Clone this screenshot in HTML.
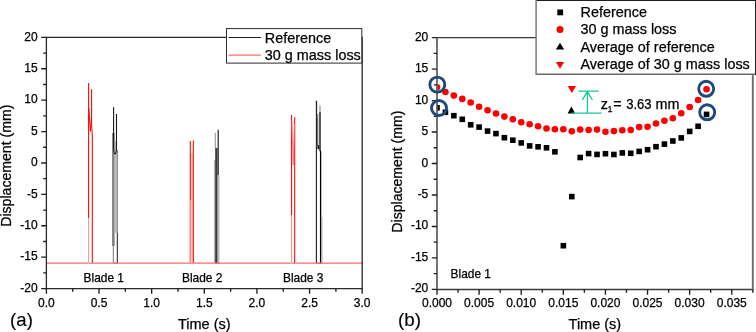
<!DOCTYPE html>
<html><head><meta charset="utf-8"><title>Blade tip displacement</title>
<style>html,body{margin:0;padding:0;background:#fff;}body{width:756px;height:332px;overflow:hidden;}svg{display:block;will-change:transform;font-family:"Liberation Sans",sans-serif;}text{fill:#000;stroke:#000;stroke-width:0.25px;}</style>
</head><body>
<svg width="756" height="332" viewBox="0 0 756 332">
<rect width="756" height="332" fill="#fff"/>
<g fill="none" stroke-linejoin="round">
<rect x="112.1" y="133" width="2.5" height="113" fill="#7e7e7e" stroke="none"/>
<rect x="114.6" y="141" width="2.0" height="92" fill="#b9b9b9" stroke="none"/>
<rect x="116.6" y="150" width="1.4" height="83" fill="#8c8c8c" stroke="none"/>
<path d="M113.3 246V263.2" stroke="#777" stroke-width="1"/>
<path d="M117.3 233V263.2" stroke="#1a1a1a" stroke-width="1"/>
<path d="M113.6 107.3V147Q113.8 153.5 115 154Q116.3 153.5 116.5 149V114" stroke="#1a1a1a" stroke-width="1.1"/>
<path d="M113.6 263.2H117.3" stroke="#777" stroke-width="1.1"/>
<rect x="214.2" y="160" width="1" height="103.2" fill="#a0a0a0" stroke="none"/>
<rect x="215.2" y="147.9" width="2.3" height="115.3" fill="#3c3c3c" stroke="none"/>
<rect x="217.5" y="175" width="1.1" height="88.2" fill="#8c8c8c" stroke="none"/>
<rect x="218.6" y="175" width="0.9" height="88.2" fill="#c0c0c0" stroke="none"/>
<path d="M215.3 132.8V147.9" stroke="#999" stroke-width="1.1"/>
<path d="M218.2 129.8V175" stroke="#111" stroke-width="1.1"/>
<path d="M215.3 263.2H219.4" stroke="#777" stroke-width="1.1"/>
<rect x="316.9" y="114" width="1.4" height="32" fill="#707070" stroke="none"/>
<path d="M317.1 101V118" stroke="#bbb" stroke-width="0.8"/>
<path d="M316.4 100.7V263.2" stroke="#1a1a1a" stroke-width="1.1"/>
<path d="M320.0 105.5V112" stroke="#888" stroke-width="1.1"/>
<path d="M320.0 112V150L320.6 152V263.2" stroke="#000" stroke-width="1.3"/>
<ellipse cx="318.3" cy="147.3" rx="0.9" ry="2.2" fill="#111" stroke="none"/>
<path d="M321.9 217V263.2" stroke="#aaa" stroke-width="1.1"/>
<path d="M316.4 263.2H321.9" stroke="#777" stroke-width="1.1"/>
<path d="M46.4 263.2H88.3M92.6 263.2H189.9M193.8 263.2H291.3M295.3 263.2H362.2" stroke="#ff6a6a" stroke-width="1.2"/>
<path d="M88.6 263.2H92.2M190.4 263.2H193.3M291.8 263.2H294.8" stroke="#888" stroke-width="1.1"/>
<path d="M88.6 83V218" stroke="#ff0000" stroke-width="1.05"/>
<path d="M88.5 218V263.2" stroke="#ff9a9a" stroke-width="1.05"/>
<path d="M91.6 89.2V125L92.3 135V263.2" stroke="#ff0000" stroke-width="1.05"/>
<path d="M88.8 108L90.4 131.3L91.5 118" stroke="#ff0000" stroke-width="1"/>
<rect x="190.6" y="153" width="2.5" height="110.2" fill="#ffd0d0" stroke="none"/>
<path d="M190.3 263.2V141M193.3 140.4V263.2" stroke="#ff0000" stroke-width="1.05"/>
<path d="M190.3 263.2V200" stroke="#ff9a9a" stroke-width="1.05"/>
<path d="M291.6 215V115" stroke="#ff0000" stroke-width="1.05"/>
<path d="M291.6 263.2V215" stroke="#ff8c8c" stroke-width="1.05"/>
<path d="M294.7 117.2V263.2" stroke="#ff0000" stroke-width="1.05"/>
<path d="M291.9 120L293.2 165L294.4 124" stroke="#ff7070" stroke-width="0.9"/>
</g>
<path d="M45.8 37.4H362.8M45.8 288.55H362.8" fill="none" stroke="#2b2b2b" stroke-width="1.3"/>
<path d="M46.4 288.55V37.4M362.2 289.25V37.4" fill="none" stroke="#2b2b2b" stroke-width="1.3"/>
<path d="M41.2 288.55H46.4M41.2 257.16H46.4M41.2 225.76H46.4M41.2 194.37H46.4M41.2 162.97H46.4M41.2 131.58H46.4M41.2 100.19H46.4M41.2 68.79H46.4M41.2 37.4H46.4M43.2 272.85H46.4M43.2 241.46H46.4M43.2 210.07H46.4M43.2 178.67H46.4M43.2 147.28H46.4M43.2 115.88H46.4M43.2 84.49H46.4M43.2 53.1H46.4M46.4 288.55V293.85M99.03 288.55V293.85M151.67 288.55V293.85M204.3 288.55V293.85M256.93 288.55V293.85M309.57 288.55V293.85M362.2 288.55V293.85M72.72 288.55V291.85M125.35 288.55V291.85M177.98 288.55V291.85M230.62 288.55V291.85M283.25 288.55V291.85M335.88 288.55V291.85" fill="none" stroke="#1e1e1e" stroke-width="1.35"/>
<text x="37.7" y="291.75" text-anchor="end" font-size="12.0">-20</text>
<text x="37.7" y="260.36" text-anchor="end" font-size="12.0">-15</text>
<text x="37.7" y="228.96" text-anchor="end" font-size="12.0">-10</text>
<text x="37.7" y="197.57" text-anchor="end" font-size="12.0">-5</text>
<text x="37.7" y="166.17" text-anchor="end" font-size="12.0">0</text>
<text x="37.7" y="134.78" text-anchor="end" font-size="12.0">5</text>
<text x="37.7" y="103.39" text-anchor="end" font-size="12.0">10</text>
<text x="37.7" y="71.99" text-anchor="end" font-size="12.0">15</text>
<text x="37.7" y="40.6" text-anchor="end" font-size="12.0">20</text>
<text x="46.4" y="307.0" text-anchor="middle" font-size="12.0">0.0</text>
<text x="99.03" y="307.0" text-anchor="middle" font-size="12.0">0.5</text>
<text x="151.67" y="307.0" text-anchor="middle" font-size="12.0">1.0</text>
<text x="204.3" y="307.0" text-anchor="middle" font-size="12.0">1.5</text>
<text x="256.93" y="307.0" text-anchor="middle" font-size="12.0">2.0</text>
<text x="309.57" y="307.0" text-anchor="middle" font-size="12.0">2.5</text>
<text x="362.2" y="307.0" text-anchor="middle" font-size="12.0">3.0</text>
<text x="83.6" y="281.8" font-size="11.9">Blade 1</text>
<text x="182" y="281.8" font-size="11.9">Blade 2</text>
<text x="283" y="281.8" font-size="11.9">Blade 3</text>
<rect x="226.5" y="28.6" width="135.3" height="34.5" fill="#fff" stroke="#2b2b2b" stroke-width="1"/>
<path d="M228.6 37.5H260.9" stroke="#222" stroke-width="1"/>
<path d="M228.6 55.2H260.9" stroke="#ff6b6b" stroke-width="1.3"/>
<text x="264.8" y="42.6" font-size="14.4">Reference</text>
<text x="264.8" y="59.9" font-size="14.4">30 g mass loss</text>
<text x="204.3" y="328.8" text-anchor="middle" font-size="14.5">Time (s)</text>
<text transform="translate(10.6 165.7) rotate(-90)" text-anchor="middle" font-size="14.1">Displacement (mm)</text>
<text x="10.1" y="326.4" font-size="18.6" style="stroke-width:0.12px">(a)</text>
<path d="M436.4 37.6H753.4M436.4 289.4H753.4" fill="none" stroke="#3a3a3a" stroke-width="1.45"/>
<path d="M437 289.4V37.6M752.8 290.1V37.6" fill="none" stroke="#6e6e6e" stroke-width="1.9"/>
<path d="M431.8 289.4H437M431.8 257.92H437M431.8 226.45H437M431.8 194.97H437M431.8 163.5H437M431.8 132.03H437M431.8 100.55H437M431.8 69.08H437M431.8 37.6H437M433.8 273.66H437M433.8 242.19H437M433.8 210.71H437M433.8 179.24H437M433.8 147.76H437M433.8 116.29H437M433.8 84.81H437M433.8 53.34H437M437 289.4V294.7M479.11 289.4V294.7M521.21 289.4V294.7M563.32 289.4V294.7M605.43 289.4V294.7M647.53 289.4V294.7M689.64 289.4V294.7M731.75 289.4V294.7M458.05 289.4V292.7M500.16 289.4V292.7M542.27 289.4V292.7M584.37 289.4V292.7M626.48 289.4V292.7M668.59 289.4V292.7M710.69 289.4V292.7M752.8 289.4V292.7" fill="none" stroke="#1e1e1e" stroke-width="1.35"/>
<text x="428.3" y="292.4" text-anchor="end" font-size="12.0">-20</text>
<text x="428.3" y="260.92" text-anchor="end" font-size="12.0">-15</text>
<text x="428.3" y="229.45" text-anchor="end" font-size="12.0">-10</text>
<text x="428.3" y="197.97" text-anchor="end" font-size="12.0">-5</text>
<text x="428.3" y="166.5" text-anchor="end" font-size="12.0">0</text>
<text x="428.3" y="135.03" text-anchor="end" font-size="12.0">5</text>
<text x="428.3" y="103.55" text-anchor="end" font-size="12.0">10</text>
<text x="428.3" y="72.08" text-anchor="end" font-size="12.0">15</text>
<text x="428.3" y="40.6" text-anchor="end" font-size="12.0">20</text>
<text x="437" y="307.0" text-anchor="middle" font-size="12.0">0.000</text>
<text x="479.11" y="307.0" text-anchor="middle" font-size="12.0">0.005</text>
<text x="521.21" y="307.0" text-anchor="middle" font-size="12.0">0.010</text>
<text x="563.32" y="307.0" text-anchor="middle" font-size="12.0">0.015</text>
<text x="605.43" y="307.0" text-anchor="middle" font-size="12.0">0.020</text>
<text x="647.53" y="307.0" text-anchor="middle" font-size="12.0">0.025</text>
<text x="689.64" y="307.0" text-anchor="middle" font-size="12.0">0.030</text>
<text x="731.75" y="307.0" text-anchor="middle" font-size="12.0">0.035</text>
<defs><clipPath id="pc"><rect x="437.6" y="37.4" width="315.4" height="251"/></clipPath></defs>
<g fill="#000" clip-path="url(#pc)"><rect x="434.2" y="105" width="5.6" height="5.6"/><rect x="442.62" y="109.5" width="5.6" height="5.6"/><rect x="451.05" y="112.9" width="5.6" height="5.6"/><rect x="459.47" y="116.5" width="5.6" height="5.6"/><rect x="467.89" y="122" width="5.6" height="5.6"/><rect x="476.31" y="124.3" width="5.6" height="5.6"/><rect x="484.74" y="128.3" width="5.6" height="5.6"/><rect x="493.16" y="130.8" width="5.6" height="5.6"/><rect x="501.58" y="134.9" width="5.6" height="5.6"/><rect x="510.01" y="137.4" width="5.6" height="5.6"/><rect x="518.43" y="140.1" width="5.6" height="5.6"/><rect x="526.85" y="143.1" width="5.6" height="5.6"/><rect x="535.28" y="144" width="5.6" height="5.6"/><rect x="543.7" y="145" width="5.6" height="5.6"/><rect x="552.12" y="149" width="5.6" height="5.6"/><rect x="560.55" y="242.9" width="5.6" height="5.6"/><rect x="568.97" y="193.8" width="5.6" height="5.6"/><rect x="577.39" y="154.7" width="5.6" height="5.6"/><rect x="585.81" y="150.8" width="5.6" height="5.6"/><rect x="594.24" y="151.6" width="5.6" height="5.6"/><rect x="602.66" y="150.9" width="5.6" height="5.6"/><rect x="611.08" y="151.7" width="5.6" height="5.6"/><rect x="619.51" y="150.1" width="5.6" height="5.6"/><rect x="627.93" y="150.5" width="5.6" height="5.6"/><rect x="636.35" y="148.6" width="5.6" height="5.6"/><rect x="644.78" y="146.9" width="5.6" height="5.6"/><rect x="653.2" y="143.9" width="5.6" height="5.6"/><rect x="661.62" y="141.3" width="5.6" height="5.6"/><rect x="670.04" y="138.2" width="5.6" height="5.6"/><rect x="678.47" y="135.1" width="5.6" height="5.6"/><rect x="686.89" y="128.6" width="5.6" height="5.6"/><rect x="695.31" y="123.5" width="5.6" height="5.6"/><rect x="703.74" y="111.6" width="5.6" height="5.6"/></g>
<g fill="#ff0000" clip-path="url(#pc)"><circle cx="437" cy="87.3" r="3.3"/><circle cx="445.42" cy="92" r="3.3"/><circle cx="453.85" cy="95.6" r="3.3"/><circle cx="462.27" cy="98.9" r="3.3"/><circle cx="470.69" cy="102.5" r="3.3"/><circle cx="479.12" cy="106.8" r="3.3"/><circle cx="487.54" cy="110.3" r="3.3"/><circle cx="495.96" cy="113.5" r="3.3"/><circle cx="504.38" cy="116.6" r="3.3"/><circle cx="512.81" cy="119.3" r="3.3"/><circle cx="521.23" cy="122.3" r="3.3"/><circle cx="529.65" cy="124.2" r="3.3"/><circle cx="538.08" cy="126.2" r="3.3"/><circle cx="546.5" cy="128.5" r="3.3"/><circle cx="554.92" cy="129.3" r="3.3"/><circle cx="563.35" cy="129.3" r="3.3"/><circle cx="571.77" cy="131.2" r="3.3"/><circle cx="580.19" cy="129.6" r="3.3"/><circle cx="588.61" cy="130" r="3.3"/><circle cx="597.04" cy="129.6" r="3.3"/><circle cx="605.46" cy="131.8" r="3.3"/><circle cx="613.88" cy="131.1" r="3.3"/><circle cx="622.31" cy="130.3" r="3.3"/><circle cx="630.73" cy="130" r="3.3"/><circle cx="639.15" cy="127.1" r="3.3"/><circle cx="647.58" cy="126.8" r="3.3"/><circle cx="656" cy="123.5" r="3.3"/><circle cx="664.42" cy="120.8" r="3.3"/><circle cx="672.84" cy="118.3" r="3.3"/><circle cx="681.27" cy="113.3" r="3.3"/><circle cx="689.69" cy="107" r="3.3"/><circle cx="698.11" cy="100" r="3.3"/><circle cx="706.54" cy="89.3" r="3.3"/></g>
<path d="M567.6 113.6L571.4 106.5L575.2 113.6Z" fill="#000"/>
<path d="M567.7 86.1L576 86.1L571.85 92.9Z" fill="#ff0000"/>
<path d="M578.6 91.1H598.8M571.7 113.2H601.5M587.4 113.6V91.6M582.3 100L587.4 91.6L592.4 100" fill="none" stroke="#14c89a" stroke-width="1.3"/>
<text x="600.8" y="109.1" font-size="14.4">z</text>
<text x="607.6" y="111.6" font-size="9">1</text>
<text x="613.3" y="109.1" font-size="14.4">=</text>
<text x="626.2" y="109.0" font-size="14.2" textLength="25.4" lengthAdjust="spacingAndGlyphs">3.63</text>
<text x="655.5" y="109.1" font-size="14.4">mm</text>
<circle cx="437.3" cy="84.6" r="7.5" fill="none" stroke="#1f497d" stroke-width="2.9"/>
<circle cx="439" cy="108" r="7.5" fill="none" stroke="#1f497d" stroke-width="2.9"/>
<circle cx="706.2" cy="88.8" r="7.5" fill="none" stroke="#1f497d" stroke-width="2.9"/>
<circle cx="707.2" cy="112.3" r="7.5" fill="none" stroke="#1f497d" stroke-width="2.9"/>
<text x="450.6" y="278.1" font-size="11.9">Blade 1</text>
<rect x="536" y="0" width="220" height="74.3" fill="#fff"/>
<path d="M536 0.5H756" stroke="#1e1e1e" stroke-width="1.1" fill="none"/>
<path d="M755.5 0V75" stroke="#1e1e1e" stroke-width="1" fill="none"/>
<path d="M536 74.3H755" stroke="#6a6a6a" stroke-width="1.4" fill="none"/>
<path d="M536.1 0V75" stroke="#7a7a7a" stroke-width="1.5" fill="none"/>
<rect x="557.3" y="9.5" width="5.8" height="5.8" fill="#000"/>
<circle cx="560.0" cy="29.5" r="3.5" fill="#ff0000"/>
<path d="M555.8 49.5L560.0 42.7L564.2 49.5Z" fill="#000"/>
<path d="M555.8 61.9L564.2 61.9L560.0 68.8Z" fill="#ff0000"/>
<text x="580.5" y="16.9" font-size="14.4">Reference</text>
<text x="580.5" y="34.2" font-size="14.4">30 g mass loss</text>
<text x="580.5" y="51.5" font-size="14.4">Average of reference</text>
<text x="580.5" y="68.8" font-size="14.4">Average of 30 g mass loss</text>
<text x="594.9" y="329.0" text-anchor="middle" font-size="14.5">Time (s)</text>
<text transform="translate(402.0 171.6) rotate(-90)" text-anchor="middle" font-size="14.1">Displacement (mm)</text>
<text x="398.0" y="326.4" font-size="18.8" style="stroke-width:0.12px">(b)</text>
</svg>
</body></html>
